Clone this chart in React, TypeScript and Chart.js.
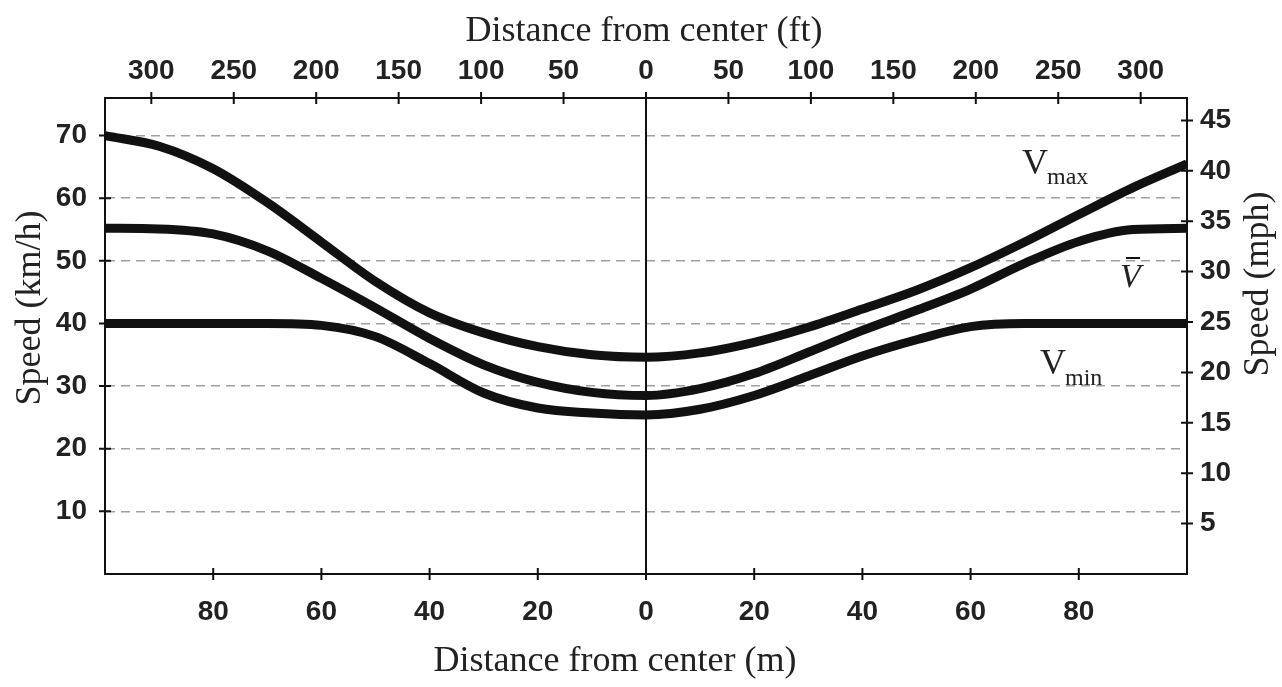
import React, { useEffect, useRef } from "react";
import { Chart, registerables } from "chart.js";

Chart.register(...registerables);

// Distance from center (m), negative = left of center
const distanceM = [-100, -90, -80, -70, -60, -50, -40, -30, -20, -10, 0, 10, 20, 30, 40, 50, 60, 70, 80, 90, 100];
// Speeds (km/h)
const vMax = [70, 68.3, 64.7, 59.3, 53, 46.7, 41.7, 38.5, 36.3, 35.0, 34.6, 35.3, 37.0, 39.4, 42.3, 45.3, 48.9, 53.0, 57.4, 61.7, 65.5];
const vMean = [55.2, 55.1, 54.3, 51.6, 47.2, 42.5, 37.6, 33.4, 30.6, 29.0, 28.5, 29.6, 32.0, 35.4, 38.9, 42.1, 45.5, 49.6, 53.1, 55.0, 55.2];
const vMin = [40, 40, 40, 40, 39.7, 37.9, 33.6, 28.9, 26.5, 25.7, 25.4, 26.3, 28.5, 31.6, 34.8, 37.4, 39.5, 40, 40, 40, 40];

// Tick values
const kmhTicks = [10, 20, 30, 40, 50, 60, 70];
const mphTicks = [5, 10, 15, 20, 25, 30, 35, 40, 45];
const meterTicks = [-80, -60, -40, -20, 0, 20, 40, 60, 80];
const feetTicks = [-300, -250, -200, -150, -100, -50, 0, 50, 100, 150, 200, 250, 300];

const KMH_PER_MPH = 1.609344;
const FT_PER_M = 3.28084;
const X_MIN = -100;
const X_MAX = 100;
const Y_MAX = 76;

const tickFont = { family: '"Liberation Sans", Arial, sans-serif', size: 28, weight: "bold" as const };
const serif = '"Liberation Serif", "Times New Roman", serif';

const setTicks = (vals: number[]) => (scale: any) => {
  scale.ticks = vals.map((v) => ({ value: v }));
};

const decorPlugin = {
  id: "decor",
  afterDatasetsDraw(chart: any) {
    const { ctx, chartArea, scales } = chart;
    const { left, right, top, bottom } = chartArea;
    ctx.save();
    // center vertical line
    const x0 = scales.x.getPixelForValue(0);
    ctx.strokeStyle = "#111";
    ctx.lineWidth = 2;
    ctx.beginPath();
    ctx.moveTo(x0, top);
    ctx.lineTo(x0, bottom);
    ctx.stroke();

    // tick marks crossing axes
    const t = 6;
    ctx.lineWidth = 2;
    ctx.beginPath();
    kmhTicks.forEach((v) => {
      const y = scales.y.getPixelForValue(v);
      ctx.moveTo(left - t, y);
      ctx.lineTo(left + t, y);
    });
    mphTicks.forEach((v) => {
      const y = scales.y2.getPixelForValue(v);
      ctx.moveTo(right - t, y);
      ctx.lineTo(right + t, y);
    });
    meterTicks.forEach((v) => {
      const x = scales.x.getPixelForValue(v);
      ctx.moveTo(x, bottom - t);
      ctx.lineTo(x, bottom + t);
    });
    feetTicks.forEach((v) => {
      const x = scales.x2.getPixelForValue(v);
      ctx.moveTo(x, top - t);
      ctx.lineTo(x, top + t);
    });
    ctx.stroke();

    // axis titles
    ctx.fillStyle = "#222";
    ctx.font = `36px ${serif}`;
    ctx.textAlign = "center";
    ctx.textBaseline = "middle";
    ctx.fillText("Distance from center (ft)", 644, 32);
    ctx.fillText("Distance from center (m)", 615, 662);
    ctx.save();
    ctx.translate(31, 308);
    ctx.rotate(-Math.PI / 2);
    ctx.fillText("Speed (km/h)", 0, 0);
    ctx.restore();
    ctx.save();
    ctx.translate(1259, 284);
    ctx.rotate(-Math.PI / 2);
    ctx.fillText("Speed (mph)", 0, 0);
    ctx.restore();

    // curve labels
    ctx.textAlign = "left";
    ctx.textBaseline = "alphabetic";
    ctx.font = `36px ${serif}`;
    ctx.fillText("V", 1022, 174);
    ctx.fillText("V", 1040, 374);
    ctx.font = `24px ${serif}`;
    ctx.fillText("max", 1047, 184);
    ctx.fillText("min", 1065, 385);
    ctx.font = `italic 34px ${serif}`;
    ctx.fillText("V", 1120, 287);
    ctx.lineWidth = 2;
    ctx.beginPath();
    ctx.moveTo(1126, 258);
    ctx.lineTo(1140, 258);
    ctx.stroke();
    ctx.restore();
  },
};

const mkSeries = (vals: number[]) => distanceM.map((x, i) => ({ x, y: vals[i] }));

export default function App() {
  const ref = useRef<HTMLCanvasElement>(null);
  useEffect(() => {
    document.body.style.margin = "0";
    const line = (label: string, vals: number[]) => ({
      label,
      data: mkSeries(vals),
      borderColor: "#111",
      borderWidth: 9,
      pointRadius: 0,
      fill: false,
      tension: 0.4,
      cubicInterpolationMode: "monotone" as const,
      xAxisID: "x",
      yAxisID: "y",
    });
    const chart = new Chart(ref.current!, {
      type: "line",
      data: {
        datasets: [line("Vmax", vMax), line("V", vMean), line("Vmin", vMin)],
      },
      options: {
        animation: false,
        responsive: false,
        events: [],
        layout: { padding: 0 },
        plugins: { legend: { display: false }, tooltip: { enabled: false } },
        scales: {
          x: {
            type: "linear",
            position: "bottom",
            min: X_MIN,
            max: X_MAX,
            afterBuildTicks: setTicks(meterTicks),
            afterFit: (s: any) => { s.height = 113; },
            grid: { display: false, drawTicks: false },
            border: { display: true, color: "#111", width: 2 },
            ticks: { font: tickFont, color: "#222", padding: 21, maxRotation: 0, autoSkip: false, callback: (v: any) => String(Math.abs(v)) },
          },
          x2: {
            type: "linear",
            position: "top",
            min: X_MIN * FT_PER_M,
            max: X_MAX * FT_PER_M,
            afterBuildTicks: setTicks(feetTicks),
            afterFit: (s: any) => { s.height = 98; },
            grid: { display: false, drawTicks: false },
            border: { display: true, color: "#111", width: 2 },
            ticks: { font: tickFont, color: "#222", padding: 10, maxRotation: 0, autoSkip: false, callback: (v: any) => String(Math.abs(v)) },
          },
          y: {
            type: "linear",
            position: "left",
            min: 0,
            max: Y_MAX,
            afterBuildTicks: setTicks(kmhTicks),
            afterFit: (s: any) => { s.width = 105; },
            grid: { display: true, drawTicks: false, color: "#a0a0a0", lineWidth: 1.5 },
            border: { display: true, color: "#111", width: 2, dash: [9, 6] },
            ticks: { font: tickFont, color: "#222", padding: 18, autoSkip: false },
          },
          y2: {
            type: "linear",
            position: "right",
            min: 0,
            max: Y_MAX / KMH_PER_MPH,
            afterBuildTicks: setTicks(mphTicks),
            afterFit: (s: any) => { s.width = 95; },
            grid: { display: false, drawTicks: false },
            border: { display: true, color: "#111", width: 2 },
            ticks: { font: tickFont, color: "#222", padding: 13, autoSkip: false },
          },
        },
      },
      plugins: [decorPlugin],
    });
    return () => chart.destroy();
  }, []);
  return <canvas ref={ref} width={1282} height={687} style={{ display: "block" }} />;
}
